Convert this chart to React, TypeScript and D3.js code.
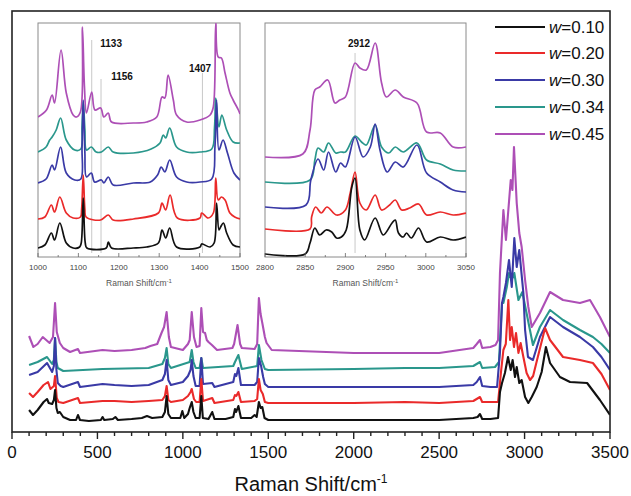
import React from 'react'
import * as d3 from 'd3'

type Pt = [number, number]

// legend / series
const labels = ['0.10', '0.20', '0.30', '0.34', '0.45']
const colors = ['#111111', '#ea2a2a', '#3a3aa6', '#2a978c', '#ad4fb6']

// main spectra: [Raman shift cm-1, intensity a.u.]
const mainBlack: Pt[] = [[100,22],[123,17],[150,22],[185,30],[205,33],[215,29],[235,28],[245,32],[252,42],[260,24],[268,19],[280,20],[300,15],[340,12],[375,12],[386,17],[398,12],[450,11],[520,12],[530,15],[540,12],[590,13],[605,15],[620,12],[700,13],[760,14],[790,16],[820,14],[880,15],[895,20],[905,36],[915,18],[930,14],[985,14],[997,21],[1008,14],[1030,18],[1040,24],[1052,30],[1062,20],[1075,14],[1098,14],[1108,36],[1117,14],[1150,13],[1172,20],[1185,13],[1250,13],[1295,15],[1305,23],[1312,20],[1325,26],[1340,14],[1400,14],[1420,17],[1432,15],[1445,30],[1455,24],[1465,25],[1478,14],[1500,12],[1700,12],[2000,12],[2300,12],[2500,12],[2700,14],[2725,15],[2739,18],[2752,13],[2800,13],[2845,14],[2856,40],[2868,49],[2885,59],[2903,75],[2919,62],[2930,72],[2944,55],[2954,65],[2969,49],[2983,52],[3003,35],[3022,29],[3042,35],[3071,45],[3100,60],[3125,85],[3149,69],[3207,55],[3266,50],[3366,49],[3441,32],[3500,17]]
const mainRed: Pt[] = [[100,39],[123,35],[150,40],[185,47],[211,50],[225,43],[245,46],[252,56],[262,34],[272,30],[300,29],[386,34],[398,29],[530,31],[600,31],[700,30],[800,31],[880,32],[895,36],[905,46],[915,32],[930,30],[1000,32],[1030,36],[1045,40],[1052,43],[1065,33],[1078,30],[1098,30],[1108,53],[1118,31],[1172,34],[1185,29],[1295,32],[1305,37],[1313,36],[1325,40],[1340,30],[1420,31],[1435,33],[1445,53],[1455,42],[1468,38],[1480,30],[1500,29],[2000,29],[2300,30],[2500,29],[2700,31],[2739,35],[2752,30],[2800,30],[2845,30],[2862,60],[2876,82],[2890,88],[2905,132],[2915,92],[2925,105],[2938,85],[2950,99],[2964,79],[2977,89],[2993,75],[3012,59],[3032,52],[3050,56],[3073,72],[3120,104],[3149,92],[3225,75],[3324,72],[3400,69],[3450,58],[3500,42]]
const mainBlue: Pt[] = [[100,57],[150,60],[205,69],[235,60],[245,66],[252,94],[260,62],[268,49],[285,46],[300,45],[386,50],[398,45],[530,48],[600,47],[700,46],[800,47],[880,52],[895,58],[905,72],[915,52],[930,47],[1000,50],[1030,56],[1045,62],[1052,72],[1062,56],[1075,46],[1098,46],[1108,74],[1118,48],[1172,49],[1185,45],[1295,50],[1305,58],[1313,56],[1325,64],[1340,47],[1420,47],[1435,50],[1445,74],[1458,66],[1470,55],[1480,48],[1500,45],[2000,45],[2300,45],[2500,45],[2700,47],[2720,50],[2739,55],[2752,46],[2800,45],[2839,45],[2856,80],[2868,129],[2876,135],[2891,149],[2909,172],[2925,145],[2940,194],[2954,165],[2969,182],[2993,139],[3003,102],[3020,75],[3049,72],[3090,95],[3149,115],[3225,105],[3324,95],[3400,85],[3450,75],[3500,62]]
const mainTeal: Pt[] = [[100,67],[150,70],[205,75],[235,68],[245,72],[252,94],[260,70],[268,64],[300,61],[530,63],[800,64],[880,68],[895,74],[905,84],[915,68],[930,64],[1040,70],[1052,82],[1062,70],[1075,64],[1098,64],[1108,74],[1118,64],[1295,66],[1305,70],[1325,77],[1345,63],[1435,66],[1445,87],[1460,72],[1480,63],[1500,62],[2000,63],[2300,64],[2500,64],[2700,66],[2739,70],[2752,64],[2827,65],[2850,70],[2868,129],[2876,129],[2896,145],[2909,159],[2925,152],[2940,159],[2964,132],[2987,140],[3008,122],[3028,105],[3049,87],[3090,105],[3149,122],[3225,112],[3324,102],[3400,95],[3450,88],[3500,79]]
const mainPurple: Pt[] = [[100,96],[125,85],[150,88],[180,95],[220,89],[240,95],[252,129],[262,100],[280,89],[300,84],[340,80],[386,83],[398,79],[530,82],[600,81],[700,82],[780,84],[810,86],[850,88],[875,99],[890,105],[905,120],[918,95],[930,85],[1000,82],[1030,88],[1040,92],[1052,120],[1065,95],[1080,85],[1098,86],[1108,124],[1118,100],[1130,99],[1140,92],[1150,90],[1170,87],[1200,82],[1290,84],[1300,88],[1320,107],[1335,88],[1345,84],[1420,83],[1435,88],[1445,134],[1455,118],[1465,109],[1480,95],[1490,89],[1520,82],[2000,79],[2300,79],[2500,79],[2700,84],[2720,88],[2739,92],[2752,84],[2800,85],[2830,87],[2845,92],[2856,159],[2876,222],[2891,192],[2919,252],[2929,242],[2938,285],[2954,229],[2969,199],[2983,185],[3003,152],[3022,125],[3042,105],[3090,119],[3149,140],[3225,132],[3324,129],[3383,132],[3441,115],[3500,95]]

// inset 1 (1000-1500 cm-1)
const in1Black: Pt[] = [[1000,9],[1017,12],[1033,24],[1041,17],[1054,34],[1070,14],[1087,9],[1103,10],[1107,14],[1112,59],[1117,14],[1121,9],[1169,9],[1174,15],[1182,9],[1236,9],[1269,10],[1298,14],[1307,27],[1316,19],[1326,29],[1343,10],[1401,10],[1405,13],[1426,10],[1436,14],[1442,54],[1448,27],[1452,30],[1459,34],[1467,24],[1483,12],[1500,10]]
const in1Red: Pt[] = [[1000,38],[1017,40],[1033,52],[1041,45],[1054,60],[1070,44],[1087,39],[1105,40],[1108,48],[1112,82],[1116,48],[1119,40],[1155,37],[1174,42],[1186,37],[1236,38],[1298,44],[1307,54],[1316,47],[1327,62],[1345,39],[1401,39],[1405,44],[1421,39],[1434,44],[1440,79],[1446,57],[1454,60],[1463,57],[1475,44],[1487,40],[1500,38]]
const in1Blue: Pt[] = [[1000,74],[1020,78],[1035,92],[1041,87],[1056,110],[1070,84],[1091,77],[1106,78],[1109,110],[1112,157],[1116,105],[1120,80],[1132,84],[1140,75],[1157,77],[1163,74],[1174,80],[1186,72],[1236,74],[1278,75],[1296,82],[1305,90],[1314,85],[1326,97],[1343,80],[1368,75],[1401,75],[1430,78],[1438,110],[1442,157],[1448,107],[1458,117],[1469,104],[1485,84],[1500,77]]
const in1Teal: Pt[] = [[1000,105],[1020,110],[1029,117],[1035,120],[1045,127],[1056,139],[1070,117],[1091,107],[1106,108],[1109,130],[1112,155],[1116,128],[1120,107],[1132,110],[1144,105],[1157,105],[1174,110],[1186,105],[1236,104],[1280,108],[1302,114],[1310,122],[1316,119],[1326,129],[1343,110],[1368,105],[1401,105],[1430,108],[1437,130],[1440,159],[1448,130],[1455,142],[1467,127],[1483,115],[1500,114]]
const in1Purple: Pt[] = [[1000,140],[1021,147],[1035,162],[1041,154],[1057,207],[1070,164],[1087,142],[1095,140],[1105,145],[1110,230],[1115,170],[1120,144],[1133,165],[1141,147],[1155,149],[1163,140],[1174,144],[1182,135],[1236,134],[1269,135],[1294,140],[1307,160],[1314,159],[1322,182],[1335,157],[1343,142],[1368,135],[1401,137],[1426,142],[1434,150],[1440,234],[1446,200],[1454,199],[1463,184],[1475,164],[1483,157],[1496,147],[1500,143]]

// inset 2 (2800-3050 cm-1)
const in2Black: Pt[] = [[2800,3],[2850,3],[2856,14],[2862,29],[2868,22],[2876,27],[2883,25],[2889,19],[2895,20],[2901,27],[2908,70],[2912,79],[2918,27],[2924,17],[2937,39],[2947,22],[2958,34],[2962,37],[2966,24],[2972,20],[2976,24],[2982,19],[2991,29],[3001,15],[3018,20],[3034,17],[3050,20]]
const in2Red: Pt[] = [[2800,28],[2856,28],[2858,40],[2863,50],[2870,44],[2877,50],[2889,42],[2900,47],[2906,64],[2912,85],[2918,54],[2926,47],[2937,62],[2945,47],[2955,52],[2962,57],[2970,47],[2980,49],[2991,53],[3001,42],[3018,45],[3034,42],[3050,44]]
const in2Blue: Pt[] = [[2800,50],[2851,52],[2857,77],[2866,98],[2873,87],[2879,105],[2888,85],[2894,94],[2900,90],[2912,120],[2922,100],[2931,110],[2937,133],[2943,107],[2952,85],[2962,95],[2972,90],[2989,112],[3001,84],[3018,75],[3034,67],[3050,65]]
const in2Teal: Pt[] = [[2800,75],[2856,77],[2862,97],[2866,109],[2873,105],[2879,114],[2888,104],[2894,105],[2900,105],[2912,121],[2920,115],[2926,112],[2937,132],[2945,110],[2954,104],[2962,110],[2972,105],[2989,114],[3001,97],[3018,93],[3034,87],[3050,86]]
const in2Purple: Pt[] = [[2800,100],[2847,103],[2856,127],[2862,167],[2868,170],[2878,177],[2887,154],[2893,157],[2900,160],[2912,194],[2918,189],[2926,187],[2937,214],[2945,174],[2951,160],[2962,167],[2972,160],[2989,154],[3001,125],[3018,124],[3034,110],[3050,110]]

const mainSeries = [mainBlack, mainRed, mainBlue, mainTeal, mainPurple]
const inset1Series = [in1Black, in1Red, in1Blue, in1Teal, in1Purple]
const inset2Series = [in2Black, in2Red, in2Blue, in2Teal, in2Purple]

const mainTicks = [0, 500, 1000, 1500, 2000, 2500, 3000, 3500]
const inset1Ticks = [1000, 1100, 1200, 1300, 1400, 1500]
const inset2Ticks = [2800, 2850, 2900, 2950, 3000, 3050]
const inset1Marks = [{ v: 1133, top: 40, lx: 1181, ly: 47 }, { v: 1156, top: 79, lx: 1208, ly: 80 }, { v: 1407, top: 73, lx: 1401, ly: 72 }]
const inset2Marks = [{ v: 2912, top: 53, lx: 2917, ly: 47 }]

const font = 'Liberation Sans, Arial, Helvetica, sans-serif'

function Inset({ id, x, series, domain, ticks, minorStep, marks }: any) {
  const y = d3.scaleLinear().domain([0, 234]).range([257, 23])
  const line = d3.line<Pt>().x(d => x(d[0])).y(d => y(d[1])).curve(d3.curveCatmullRom.alpha(0.5))
  const [x0, x1] = x.range()
  const minor = d3.range(domain[0], domain[1] + 0.1, minorStep)
  return (
    <g>
      <defs>
        <clipPath id={id}><rect x={x0} y={23} width={x1 - x0} height={234} /></clipPath>
      </defs>
      <rect x={x0} y={23} width={x1 - x0} height={234} fill="#fff" stroke="#8a8a8a" strokeWidth={1} />
      {marks.map((m: any) => (
        <g key={m.v}>
          <line x1={x(m.v)} x2={x(m.v)} y1={m.top} y2={253} stroke="#c8c8c8" strokeWidth={1} />
          <text x={x(m.lx)} y={m.ly} fontSize={10} fontWeight="bold" textAnchor="middle" fontFamily={font} fill="#111">{m.v}</text>
        </g>
      ))}
      <g clipPath={`url(#${id})`}>
        {series.map((s: Pt[], i: number) => (
          <path key={i} d={line(s) || ''} fill="none" stroke={colors[i]} strokeWidth={1.7} strokeLinejoin="round" />
        )).reverse()}
      </g>
      {minor.map((t: number) => (
        <line key={t} x1={x(t)} x2={x(t)} y1={257} y2={ticks.includes(t) ? 253 : 255} stroke="#666" strokeWidth={0.8} />
      ))}
      {ticks.map((t: number) => (
        <text key={t} x={x(t)} y={270} fontSize={8} textAnchor="middle" fontFamily={font} fill="#444">{t}</text>
      ))}
      <text x={(x0 + x1) / 2} y={286} fontSize={8.5} textAnchor="middle" fontFamily={font} fill="#555">
        Raman Shift/cm<tspan dy={-3} fontSize={6}>-1</tspan>
      </text>
    </g>
  )
}

export default function App() {
  const W = 631, H = 496
  const x = d3.scaleLinear().domain([0, 3500]).range([12, 610])
  const y = d3.scaleLinear().domain([0, 420]).range([432, 12])
  const line = d3.line<Pt>().x(d => x(d[0])).y(d => y(d[1]))
  const minor = d3.range(0, 3501, 100)

  const x1 = d3.scaleLinear().domain([1000, 1500]).range([38, 240])
  const x2 = d3.scaleLinear().domain([2800, 3050]).range([265, 466])

  const legendY = [27, 53, 80, 107, 134]

  return (
    <svg width={W} height={H} style={{ position: 'absolute', left: 0, top: 0, background: '#fff' }} fontFamily={font}>
      <rect width={W} height={H} fill="#fff" />
      <defs>
        <clipPath id="mainclip"><rect x={12} y={12} width={598} height={420} /></clipPath>
      </defs>
      <g clipPath="url(#mainclip)">
        {mainSeries.map((s, i) => (
          <path key={i} d={line(s) || ''} fill="none" stroke={colors[i]} strokeWidth={2.1} strokeLinejoin="round" />
        )).reverse()}
      </g>
      <rect x={12} y={11} width={598} height={421} fill="none" stroke="#222" strokeWidth={1.6} />
      {minor.map(t => (
        <line key={t} x1={x(t)} x2={x(t)} y1={432} y2={t % 500 === 0 ? 439 : 436} stroke="#222" strokeWidth={1.4} />
      ))}
      {mainTicks.map(t => (
        <text key={t} x={x(t)} y={458} fontSize={17} textAnchor="middle" fill="#111">{t}</text>
      ))}
      <text x={311} y={491} fontSize={20} textAnchor="middle" fill="#111">
        Raman Shift/cm<tspan dy={-8} fontSize={12}>-1</tspan>
      </text>

      <Inset id="in1" x={x1} series={inset1Series} domain={[1000, 1500]} ticks={inset1Ticks} minorStep={50} marks={inset1Marks} />
      <Inset id="in2" x={x2} series={inset2Series} domain={[2800, 3050]} ticks={inset2Ticks} minorStep={25} marks={inset2Marks} />

      {labels.map((l, i) => (
        <g key={l}>
          <line x1={495} x2={545} y1={legendY[i]} y2={legendY[i]} stroke={colors[i]} strokeWidth={2} />
          <text x={549} y={legendY[i] + 6} fontSize={17} fill="#111">
            <tspan fontStyle="italic">w</tspan>={l}
          </text>
        </g>
      ))}
    </svg>
  )
}
